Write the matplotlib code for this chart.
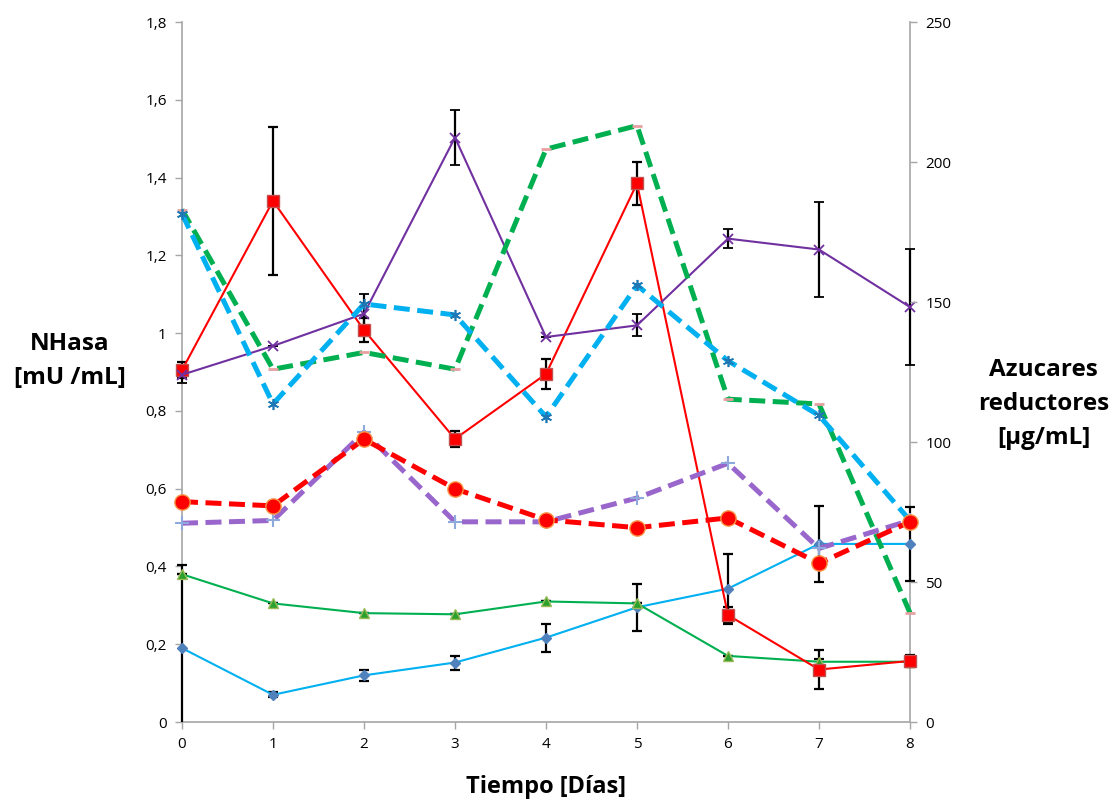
import matplotlib
matplotlib.use("Agg")
import matplotlib.pyplot as plt
from matplotlib.ticker import FuncFormatter
from matplotlib.transforms import Bbox, TransformedBbox

plt.rcParams['font.family'] = ['Open Sans', 'DejaVu Sans']

dias = [0, 1, 2, 3, 4, 5, 6, 7, 8]

# NHasa series (left axis, mU/mL)
nh_azul = [0.19, 0.07, 0.12, 0.153, 0.217, 0.295, 0.343, 0.458, 0.458]
nh_azul_err = [0.215, 0.006, 0.015, 0.018, 0.036, 0.06, 0.09, 0.097, 0.095]
nh_verde = [0.38, 0.305, 0.28, 0.277, 0.31, 0.305, 0.17, 0.155, 0.155]
nh_verde_err = [0, 0, 0, 0, 0, 0, 0, 0.008, 0]
nh_rojo = [0.905, 1.34, 1.008, 0.728, 0.895, 1.385, 0.275, 0.135, 0.157]
nh_rojo_err = [0.02, 0.19, 0.03, 0.02, 0.038, 0.055, 0.02, 0.05, 0.015]
nh_morado = [0.893, 0.967, 1.05, 1.503, 0.99, 1.02, 1.243, 1.215, 1.067]
nh_morado_err = [0.02, 0, 0.05, 0.07, 0, 0.028, 0.025, 0.123, 0.15]

# Azucares reductores series (right axis, ug/mL)
az_verde = [183, 126, 132, 126, 204.6, 213, 115.3, 113.6, 39]
az_cian = [181.5, 113.6, 149.3, 145.4, 109, 156, 129, 109.5, 72]
az_morado = [71, 72, 103.5, 71.5, 71.5, 80, 92.4, 62, 72]
az_rojo = [78.7, 77.2, 101, 83.3, 72.2, 69.4, 72.9, 56.7, 71.5]

fig = plt.figure(figsize=(11.2, 8.07), dpi=100)
ax = fig.add_axes([0.1625, 0.1053, 0.65, 0.8674])
ax2 = ax.twinx()

clipbox = TransformedBbox(Bbox([[-0.05, 0.0], [1.05, 1.05]]), ax.transAxes)

ebkw = dict(ecolor='black', elinewidth=1.6, capsize=3.5, capthick=1.6)


def eb(x, y, e, **kw):
    cont = ax.errorbar(x, y, yerr=e, **ebkw, **kw)
    cont[0].set_clip_box(clipbox)
    cont[0].set_zorder(3)
    for c in list(cont[1]) + list(cont[2]):
        c.set_clip_box(clipbox)
        c.set_zorder(2.5)
    return cont


eb(dias, nh_azul, nh_azul_err, color='#00B0F0', lw=1.5,
   marker='D', ms=5.5, mfc='#4F81BD', mec='#4F81BD')
eb(dias, nh_verde, nh_verde_err, color='#00B050', lw=1.5,
   marker='^', ms=7, mfc='#2CA02C', mec='#9BBB59')
eb(dias, nh_rojo, nh_rojo_err, color='#FF0000', lw=1.5,
   marker='s', ms=8, mfc='#FF0000', mec='#C0504D')
eb(dias, nh_morado, nh_morado_err, color='#7030A0', lw=1.5,
   marker='x', ms=7, mfc='#7030A0', mec='#7030A0', mew=1.3)

dash = (3.2, 1.5)
lines = []
lines += ax2.plot(dias, az_verde, color='#00B050', lw=3.6, dashes=dash,
                  marker='_', ms=7, mec='#E6A0A0', mew=2)
lines += ax2.plot(dias, az_cian, color='#00B0F0', lw=3.6, dashes=dash,
                  marker=(6, 2, 0), ms=8, mec='#1F77B4', mew=1.2)
lines += ax2.plot(dias, az_morado, color='#9966CC', lw=3.6, dashes=dash,
                  marker='+', ms=10, mec='#8EA9DB', mew=1.5)
lines += ax2.plot(dias, az_rojo, color='#FF0000', lw=3.6, dashes=dash,
                  marker='o', ms=11, mfc='#FF0000', mec='#F79646', mew=1)
for ln in lines:
    ln.set_clip_on(False)

ax.set_xlim(0, 8)
ax.set_ylim(0, 1.8)
ax2.set_ylim(0, 250)
ax.set_xticks(dias)
ax.set_yticks([0, 0.2, 0.4, 0.6, 0.8, 1.0, 1.2, 1.4, 1.6, 1.8])
ax2.set_yticks([0, 50, 100, 150, 200, 250])


def fmt(v, pos):
    s = f"{v:.1f}".rstrip('0').rstrip('.')
    return s.replace('.', ',')


ax.yaxis.set_major_formatter(FuncFormatter(fmt))

ax.spines['top'].set_visible(False)
for s in ('left', 'right', 'bottom'):
    ax.spines[s].set_color('#A6A6A6')
    ax.spines[s].set_linewidth(1.2)
    ax.spines[s].set_zorder(0.5)
for s in ('left', 'right', 'bottom', 'top'):
    ax2.spines[s].set_visible(False)

for a in (ax, ax2):
    a.tick_params(axis='both', direction='out', length=5, width=1,
                  color='#A6A6A6', labelsize=11, labelcolor='black')
ax.tick_params(axis='x', pad=6)
ax.tick_params(axis='y', pad=6)
ax2.tick_params(axis='y', pad=6)

ax.set_xlabel('Tiempo [Días]', fontsize=17, fontweight='bold', labelpad=16)
fig.text(0.0625, 0.553, 'NHasa\n[mU /mL]', fontsize=17.5, fontweight='bold',
         ha='center', va='center', linespacing=1.55)
fig.text(0.932, 0.499, 'Azucares\nreductores\n[µg/mL]', fontsize=17.5,
         fontweight='bold', ha='center', va='center', linespacing=1.55)

fig.savefig('out.png', dpi=100)
